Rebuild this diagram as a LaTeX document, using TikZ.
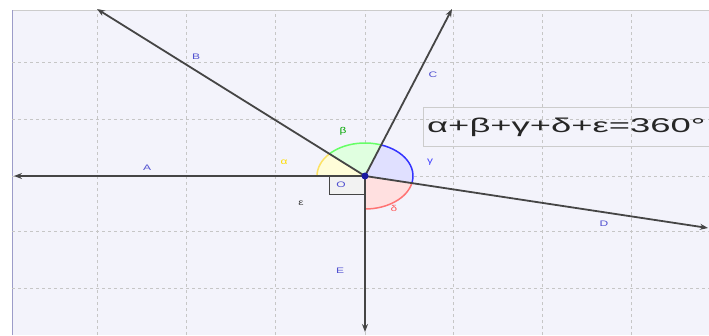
\documentclass[tikz,border=0pt]{standalone}
\usepackage{fontspec}
\setmainfont{Liberation Sans}
\usetikzlibrary{arrows.meta,calc}
\definecolor{bgc}{HTML}{F3F3FB}
\definecolor{raycol}{HTML}{454545}
\definecolor{lblue}{HTML}{5050D0}
\definecolor{ptblue}{HTML}{1A1AA0}
\tikzset{
  gridln/.style={draw=gray!45, line width=0.6pt, dash pattern=on 3pt off 3pt},
  rayln/.style={draw=raycol, line width=1.8pt, -{Stealth[length=8pt,width=6pt]}},
  lbl/.style={text=lblue, font=\fontsize{8}{9}\selectfont, xscale=1.5, inner sep=0pt},
  glbl/.style={font=\fontsize{8.5}{9}\selectfont, xscale=1.4, inner sep=0pt},
  arcsty/.style={line width=1.5pt},
}
\begin{document}
\begin{tikzpicture}[x=1pt,y=1pt]
\useasboundingbox (0,0) rectangle (709,335);
\fill[white] (0,0) rectangle (709,335);
\fill[bgc] (12,0) rectangle (709,325);
\draw[gray!40, line width=0.8pt] (12,325) -- (709,325);
\draw[blue!30!gray!60, line width=1pt] (12,0) -- (12,325);
% grid
\foreach \gx in {97,186,275,365,453,542,631} \draw[gridln] (\gx,0) -- (\gx,325);
\foreach \gy in {273,216,159,104,47} \draw[gridln] (12,\gy) -- (709,\gy);
% text box
\draw[gray!40, line width=0.9pt] (709,228) -- (423,228) -- (423,189) -- (709,189);
\node[anchor=west, inner sep=0pt, text=black!85] (eq) at (427,208)
  {\scalebox{1.82}[1]{\fontsize{20}{22}\selectfont α+β+γ+δ+ε=360°}};
% points
\coordinate (O) at (365,159);
\coordinate (Atip) at (14,159);
\coordinate (Btip) at (97,326);
\coordinate (Ctip) at (452,326);
\coordinate (Dtip) at (708,107);
\coordinate (Etip) at (365,3);
% angle sectors
\def\rx{48}\def\ry{33}
\fill[yellow!15] (O) -- ++(180:\rx pt and \ry pt) arc[start angle=180,end angle=137.8,x radius=\rx,y radius=\ry] -- cycle;
\fill[green!12] (O) -- ++(137.8:\rx pt and \ry pt) arc[start angle=137.8,end angle=70.3,x radius=\rx,y radius=\ry] -- cycle;
\fill[blue!12] (O) -- ++(70.3:\rx pt and \ry pt) arc[start angle=70.3,end angle=-12.4,x radius=\rx,y radius=\ry] -- cycle;
\fill[red!12] (O) -- ++(-12.4:\rx pt and \ry pt) arc[start angle=-12.4,end angle=-90,x radius=\rx,y radius=\ry] -- cycle;
\draw[arcsty, draw=yellow!70!orange!60] ($(O)+(180:\rx pt and \ry pt)$) arc[start angle=180,end angle=137.8,x radius=\rx,y radius=\ry];
\draw[arcsty, draw=green!60] ($(O)+(137.8:\rx pt and \ry pt)$) arc[start angle=137.8,end angle=70.3,x radius=\rx,y radius=\ry];
\draw[arcsty, draw=blue!80] ($(O)+(70.3:\rx pt and \ry pt)$) arc[start angle=70.3,end angle=-12.4,x radius=\rx,y radius=\ry];
\draw[arcsty, draw=red!55] ($(O)+(-12.4:\rx pt and \ry pt)$) arc[start angle=-12.4,end angle=-90,x radius=\rx,y radius=\ry];
% right angle mark
\filldraw[fill=gray!10, draw=raycol, line width=1pt] (329,159) rectangle (365,141);
% rays
\draw[rayln] (O) -- (Atip);
\draw[rayln] (O) -- (Btip);
\draw[rayln] (O) -- (Ctip);
\draw[rayln] (O) -- (Dtip);
\draw[rayln] (O) -- (Etip);
\fill[ptblue] (O) circle (3.5);
% labels
\node[lbl] (lA) at (147,167) {A};
\node[lbl] (lB) at (196,278) {B};
\node[lbl] (lC) at (433,260) {C};
\node[lbl] (lD) at (604,111) {D};
\node[lbl] (lE) at (340,64) {E};
\node[lbl] (lO) at (341,150) {O};
\node[glbl, text=yellow!80!orange] (la) at (284,173) {α};
\node[glbl, text=green!65!black] (lb) at (343,204) {β};
\node[glbl, text=blue!75] (lg) at (430,173) {γ};
\node[glbl, text=red!65] (ld) at (394,127) {δ};
\node[glbl, text=black!75] (le) at (301,132) {ε};
\end{tikzpicture}
\end{document}
